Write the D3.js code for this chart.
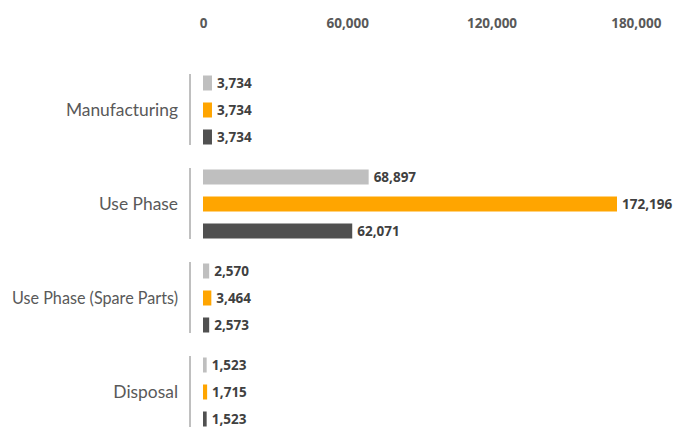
<!DOCTYPE html>
<html><head><meta charset="utf-8">
<script src="https://cdn.jsdelivr.net/npm/d3@7"></script>
<style>body{margin:0;background:#fff}svg{display:block}</style>
</head><body>
<script>
const categories = ["Manufacturing", "Use Phase", "Use Phase (Spare Parts)", "Disposal"];
const seriesNames = ["Scenario A", "Scenario B", "Scenario C"];
const seriesA = [3734, 68897, 2570, 1523];
const seriesB = [3734, 172196, 3464, 1715];
const seriesC = [3734, 62071, 2573, 1523];
const tickValues = [0, 60000, 120000, 180000];
const colors = ["#bfbfbf", "#ffa500", "#505050"];

const W = 675, H = 427;
const svg = d3.select("body").append("svg").attr("width", W).attr("height", H);
const x = d3.scaleLinear().domain([0, 172196]).range([203, 617]);
const y = d3.scaleBand().domain(categories).range([63, 439]).padding(0);
const yi = d3.scaleBand().domain(seriesNames).range([12.5, 81.5]).paddingInner(12/27).paddingOuter(0);

const data = categories.map((c, i) => ({cat: c, vals: [seriesA[i], seriesB[i], seriesC[i]]}));

// top axis labels
const ax = svg.append("g").attr("transform", "translate(0,23)")
  .call(d3.axisTop(x).tickValues(tickValues).tickFormat(d3.format(",")).tickSize(0).tickPadding(0));
ax.select(".domain").remove();
ax.selectAll("text").attr("font-family", "'Open Sans', sans-serif").attr("font-size", 13.5)
  .attr("font-weight", "bold").attr("fill", "#595959").attr("dy", "0.35em");

const g = svg.selectAll("g.cat").data(data).join("g").attr("class", "cat")
  .attr("transform", d => `translate(0,${y(d.cat)})`);

g.append("line").attr("x1", 190).attr("x2", 190).attr("y1", 11).attr("y2", 82)
  .attr("stroke", "#808080").attr("stroke-width", 1);

g.append("text").attr("x", 178).attr("y", y.bandwidth()/2).attr("dy", "0.35em")
  .attr("text-anchor", "end").attr("font-family", "Lato, 'Open Sans', sans-serif")
  .attr("font-size", 17.4).attr("fill", "#595959").text(d => d.cat)
  .each(function() {
    if (this.getComputedTextLength() > 166) {
      d3.select(this).attr("textLength", 166).attr("lengthAdjust", "spacingAndGlyphs");
    }
  });

const bars = g.selectAll("g.bar").data(d => d.vals.map((v, j) => ({v, s: seriesNames[j], j})))
  .join("g").attr("class", "bar");
bars.append("rect").attr("x", x(0)).attr("y", d => yi(d.s)).attr("width", d => x(d.v) - x(0))
  .attr("height", yi.bandwidth()).attr("fill", d => colors[d.j]);
bars.append("text").attr("x", d => x(d.v) + 5).attr("y", d => yi(d.s) + yi.bandwidth()/2)
  .attr("dy", "0.35em").attr("font-family", "'Open Sans', sans-serif").attr("font-size", 13.5)
  .attr("font-weight", "bold").attr("fill", "#404040").text(d => d3.format(",")(d.v));
</script>
</body></html>
